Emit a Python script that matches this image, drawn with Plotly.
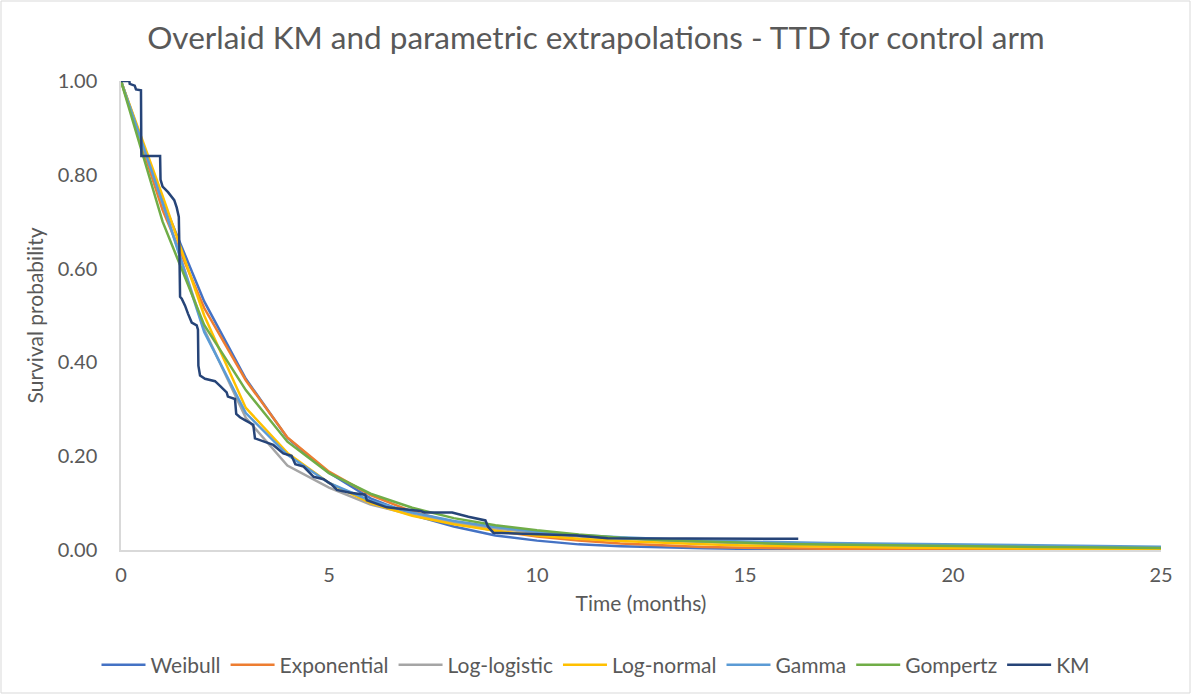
import plotly.graph_objects as go

# Time grid (months) for the fitted parametric survival curves
months = list(range(0, 26))

weibull = [1.0, 0.745, 0.530, 0.365, 0.239, 0.165, 0.110, 0.075, 0.050, 0.031,
           0.020, 0.012, 0.008, 0.005, 0.0035, 0.0025, 0.0017, 0.0012, 0.0008, 0.0005,
           0.0004, 0.0003, 0.0002, 0.0001, 0.0001, 0.0001]
exponential = [1.0, 0.725, 0.516, 0.362, 0.240, 0.167, 0.117, 0.082, 0.058, 0.041,
               0.029, 0.020, 0.014, 0.0095, 0.0066, 0.0046, 0.0032, 0.0023, 0.0016, 0.0011,
               0.0008, 0.0006, 0.0004, 0.0003, 0.0002, 0.0001]
log_logistic = [1.0, 0.740, 0.470, 0.282, 0.180, 0.133, 0.097, 0.075, 0.058, 0.046,
                0.036, 0.029, 0.024, 0.020, 0.017, 0.0145, 0.0125, 0.011, 0.0098, 0.0088,
                0.008, 0.0072, 0.0066, 0.006, 0.0055, 0.005]
log_normal = [1.0, 0.755, 0.500, 0.303, 0.207, 0.143, 0.100, 0.073, 0.055, 0.041,
              0.031, 0.024, 0.019, 0.015, 0.012, 0.0098, 0.0082, 0.0068, 0.0057, 0.0048,
              0.0041, 0.0035, 0.003, 0.0026, 0.0023, 0.002]
gamma = [1.0, 0.740, 0.465, 0.292, 0.203, 0.143, 0.105, 0.080, 0.062, 0.049,
         0.039, 0.032, 0.027, 0.023, 0.020, 0.018, 0.016, 0.015, 0.014, 0.013,
         0.012, 0.011, 0.010, 0.009, 0.008, 0.007]
gompertz = [1.0, 0.700, 0.480, 0.341, 0.231, 0.164, 0.120, 0.090, 0.068, 0.053,
            0.042, 0.033, 0.026, 0.021, 0.018, 0.015, 0.013, 0.0115, 0.0102, 0.0092,
            0.0082, 0.0073, 0.0065, 0.0057, 0.005, 0.0044]

# Kaplan-Meier estimate (time in months, survival probability)
km_time = [0, 0.20, 0.21, 0.33, 0.36, 0.48, 0.49, 0.94, 0.95, 1.00, 1.13, 1.28, 1.34,
           1.39, 1.40, 1.42, 1.46, 1.54, 1.61, 1.70, 1.82, 1.85, 1.86, 1.90, 2.02,
           2.26, 2.38, 2.54, 2.57, 2.74, 2.77, 2.86, 2.98, 3.18, 3.22, 3.42, 3.66,
           3.90, 4.10, 4.19, 4.39, 4.63, 4.87, 5.07, 5.19, 5.51, 5.87, 5.91, 6.39,
           7.03, 7.20, 7.30, 7.96, 8.35, 8.64, 8.76, 8.82, 8.95, 10.96, 11.50, 11.70,
           16.28]
km_surv = [1.0, 1.0, 0.994, 0.99, 0.982, 0.98, 0.84, 0.84, 0.79, 0.775, 0.763, 0.746, 0.73,
           0.71, 0.66, 0.54, 0.536, 0.521, 0.504, 0.485, 0.479, 0.47, 0.393, 0.372, 0.365,
           0.36, 0.35, 0.336, 0.327, 0.322, 0.29, 0.283, 0.277, 0.267, 0.238, 0.231, 0.224,
           0.206, 0.201, 0.183, 0.178, 0.156, 0.151, 0.139, 0.128, 0.122, 0.118, 0.106, 0.091,
           0.085, 0.083, 0.080, 0.080, 0.071, 0.066, 0.063, 0.050, 0.037, 0.031, 0.027, 0.025,
           0.024]

x_ticks = [0, 5, 10, 15, 20, 25]
y_ticks = [0.0, 0.2, 0.4, 0.6, 0.8, 1.0]

series = [
    ("Weibull", weibull, "#4472C4"),
    ("Exponential", exponential, "#ED7D31"),
    ("Log-logistic", log_logistic, "#A5A5A5"),
    ("Log-normal", log_normal, "#FFC000"),
    ("Gamma", gamma, "#5B9BD5"),
    ("Gompertz", gompertz, "#70AD47"),
]

FONT = "Lato"
TEXT = "#595959"

fig = go.Figure()
for name, vals, color in series:
    fig.add_trace(go.Scatter(x=months, y=vals, mode="lines", name=name,
                             line=dict(color=color, width=2.5)))
fig.add_trace(go.Scatter(x=km_time, y=km_surv, mode="lines", name="KM",
                         line=dict(color="#264478", width=2.5)))

W, H = 1192, 695
ML, MR, MT, MB = 121, 31, 81, 145
pw, ph = W - ML - MR, H - MT - MB

fig.update_layout(
    width=W, height=H,
    margin=dict(l=ML, r=MR, t=MT, b=MB),
    paper_bgcolor="white", plot_bgcolor="white",
    font=dict(family=FONT, color=TEXT, size=20),
    title=dict(text="Overlaid KM and parametric extrapolations - TTD for control arm",
               x=0.5, xref="container", xanchor="center",
               y=1 - 38 / H, yref="container", yanchor="middle",
               font=dict(family=FONT, size=31.5, color=TEXT)),
    showlegend=True,
    legend=dict(orientation="h", x=0.5, xref="container", xanchor="center",
                y=1 - 665 / H, yref="container", yanchor="middle",
                font=dict(family=FONT, size=21, color=TEXT),
                bgcolor="rgba(0,0,0,0)", itemwidth=44, tracegroupgap=0),
    xaxis=dict(range=[0, 25], tickvals=x_ticks, showgrid=False, zeroline=False,
               showline=True, linecolor="#D9D9D9", linewidth=1.5,
               ticks="", ticklabelstandoff=6, tickfont=dict(size=20),
               title=dict(text="Time (months)", font=dict(size=21, color=TEXT), standoff=12)),
    yaxis=dict(range=[0, 1], tickvals=y_ticks, tickformat=".2f", showgrid=False,
               zeroline=False, showline=True, linecolor="#D9D9D9", linewidth=1.5,
               ticks="", ticklabelstandoff=18, tickfont=dict(size=20),
               title=dict(text="Survival probability", font=dict(size=21, color=TEXT), standoff=8)),
    shapes=[dict(type="rect", xref="paper", yref="paper",
                 x0=(1 - ML) / pw, x1=(W - 2 - ML) / pw,
                 y0=(MT + ph - (H - 2)) / ph, y1=(MT + ph - 1) / ph,
                 line=dict(color="#D9D9D9", width=1), fillcolor="rgba(0,0,0,0)",
                 layer="below")],
)

fig.write_html("out.html")
